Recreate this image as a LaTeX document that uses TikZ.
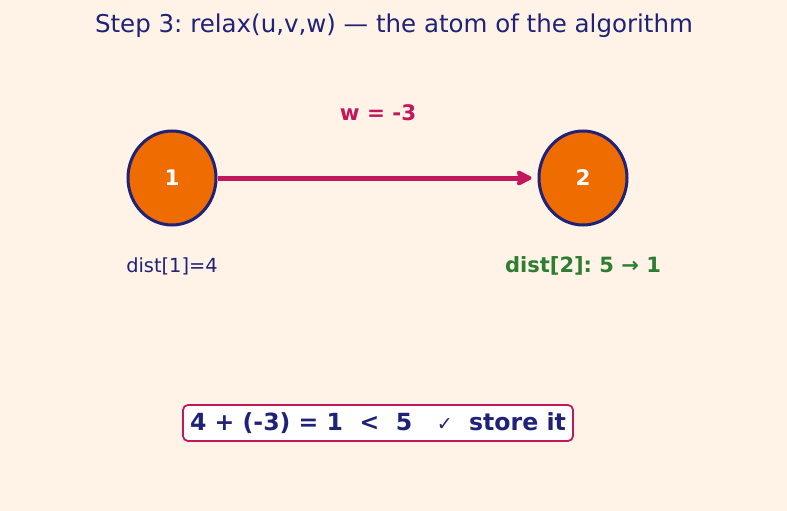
\documentclass[tikz,border=0pt]{standalone}
\usepackage{fontspec}
\setmainfont{DejaVu Sans}
\usepackage{tikz}
\usetikzlibrary{arrows.meta}
\definecolor{bgcream}{HTML}{FFF2E7}
\definecolor{navy}{HTML}{1F2276}
\definecolor{nodeorange}{HTML}{EF6C00}
\definecolor{crimson}{HTML}{C2185B}
\definecolor{leafgreen}{HTML}{2E7D32}
\tikzset{
  vertex/.style={ellipse, draw=navy, line width=3pt, fill=nodeorange,
    minimum width=88pt, minimum height=94pt, inner sep=0pt,
    text=white, font=\bfseries\fontsize{21.5}{25}\selectfont},
  edge/.style={crimson, line width=5pt, shorten >=6pt, -{Stealth[length=18pt, width=18pt, round, inset=3pt]}},
}
\usetikzlibrary{shapes.geometric}
\frenchspacing
\begin{document}
\begin{tikzpicture}[x=1pt, y=-1pt]
        \fill[bgcream] (0, 0) rectangle (787, 511);
        \useasboundingbox (0, 0) rectangle (787, 511);
        \node[navy, font=\fontsize{24.5}{28}\selectfont] (title) at (394, 26) {Step 3: relax(u,v,w) — the atom of the algorithm};
        \node[vertex] (u) at (172, 178) {1};
        \node[vertex] (v) at (583, 178) {2};
        \draw[edge] (u) -- (v.west);
        \node[crimson, font=\bfseries\fontsize{21.4}{25}\selectfont] (weight) at (378, 113) {w = -3};
        \node[navy, font=\fontsize{19.4}{23}\selectfont] (distu) at (172, 266) {dist[1]=4};
        \node[leafgreen, font=\bfseries\fontsize{21}{25}\selectfont] (distv) at (583, 266) {dist[2]: 5 → 1};
        \node[draw=crimson, line width=1.8pt, fill=white, rounded corners=5pt, text=navy,
          minimum width=390pt, minimum height=36pt, inner sep=0pt,
          font=\bfseries\fontsize{23.6}{27}\selectfont] (check) at (378, 423)
          {4 + (-3) = 1\ \ <\ \ 5\ \ \ {\mdseries\fontsize{19}{22}\selectfont ✓}\ \ store it};
    \end{tikzpicture}
\end{document}
